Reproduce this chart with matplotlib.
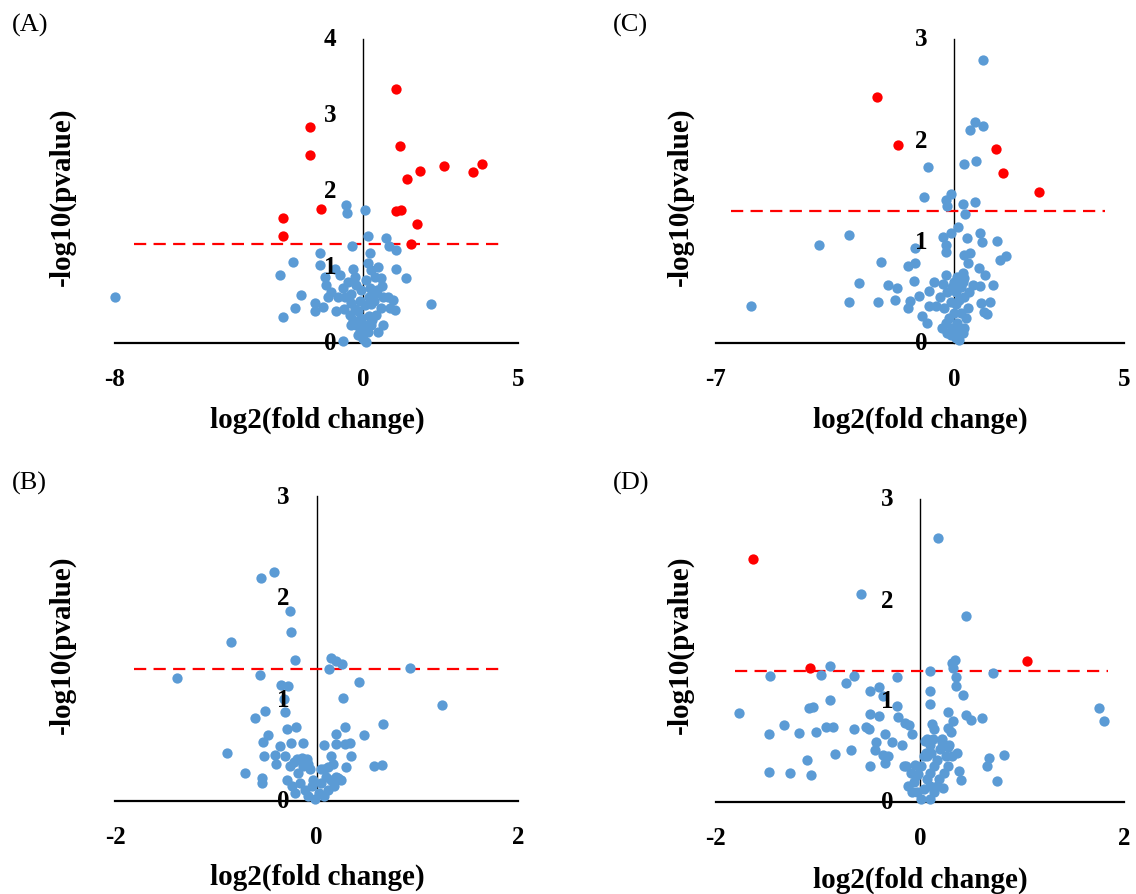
import matplotlib
matplotlib.use("Agg")
import matplotlib.pyplot as plt

plt.rcParams['font.family'] = ['Liberation Serif', 'DejaVu Serif']

BLUE = "#5B9BD5"
RED = "#FF0000"
THR = 1.3  # -log10(0.05)

# ---- panel A
a_red_x = [1.08, -1.70, -1.70, 1.20, 1.43, 1.84, 2.60, 3.55, 3.85, -1.36, 1.08, 1.23, 1.73, -2.57, -2.57, 1.54]
a_red_y = [3.34, 2.84, 2.47, 2.59, 2.16, 2.26, 2.33, 2.25, 2.35, 1.76, 1.74, 1.75, 1.57, 1.64, 1.41, 1.30]
a_blue_x = [-8.0, -0.54, -0.52, 0.05, 0.16, -0.34, 0.75, 0.83, 1.08, -1.40, -1.40, -2.26, -2.69,
            0.22, 0.16, 0.27, 0.48, 0.38, 0.59, 1.08, 1.40, -0.91, -0.75, -0.32, -0.27, -1.24,
            -1.18, -1.02, -0.65, -0.48, -0.22, -1.99, -2.20, -2.58, -1.56, -1.56, -1.29, -0.86,
            -1.13, -0.81, -0.59, -0.38, 0.22, 0.38, 0.65, 0.81, 0.97, 0.59, 0.86, 1.02, 0.27,
            0.43, 0.65, 0.48, -0.43, -0.32, -0.16, -0.05, 0.05, -0.22, -0.11, 0.0, 0.16, 0.11,
            0.27, -0.38, -0.16, -0.65, 2.20, 0.05, -0.10, 0.20, 0.30, -0.25, 0.10, -0.05, 0.35,
            -0.40, 0.45, -0.60, 0.60, 0.20, 0.10, -0.05]
a_blue_y = [0.60, 1.82, 1.71, 1.75, 1.41, 1.27, 1.38, 1.28, 1.23, 1.18, 1.03, 1.06, 0.90,
            1.19, 1.05, 0.96, 1.00, 0.87, 0.85, 0.97, 0.86, 0.98, 0.89, 0.97, 0.87, 0.87,
            0.76, 0.67, 0.73, 0.80, 0.76, 0.63, 0.46, 0.34, 0.53, 0.42, 0.48, 0.42,
            0.60, 0.60, 0.60, 0.64, 0.73, 0.64, 0.60, 0.60, 0.57, 0.46, 0.46, 0.44, 0.51,
            0.37, 0.24, 0.14, 0.37, 0.30, 0.42, 0.33, 0.24, 0.24, 0.14, 0.05, 0.14, 0.01,
            0.24, 0.24, 0.10, 0.03, 0.51, 0.50, 0.55, 0.35, 0.30, 0.45, 0.20, 0.10, 0.55,
            0.52, 0.70, 0.45, 0.75, 0.60, 0.83, 0.70]

# ---- panel C
c_red_x = [-2.26, -1.65, 1.23, 1.45, 2.51]
c_red_y = [2.43, 1.95, 1.91, 1.68, 1.49]
c_blue_x = [0.85, 0.63, 0.85, 0.48, 0.64, 0.29, -0.77, -0.89, -0.25, -0.10, -0.21, 0.27, 0.63, 0.32,
            -3.10, -3.97, -5.98, 0.12, -0.08, -0.33, 0.37, 0.76, 0.83, 1.26, -1.16, -0.25, -0.25,
            0.29, 0.47, 0.40, 1.36, 1.53, -2.15, -1.36, -1.14, 0.73, 0.90, -2.78, -1.95, -1.67,
            -1.19, -0.25, -0.33, -0.59, -0.74, 0.27, 0.29, 0.56, 0.76, 1.16, -3.08, -2.23, -1.73,
            -1.29, -1.04, -1.34, -0.94, -0.79, -0.74, -0.53, 0.78, 1.06, 0.88, 0.96,
            -0.40, -0.30, -0.20, -0.15, -0.10, -0.05, 0.0, 0.05, 0.10, 0.15, 0.20, 0.25, 0.30,
            0.35, 0.40, 0.05, -0.10, 0.15, 0.0, -0.25, 0.20, 0.10, -0.35, 0.30, 0.45, -0.05,
            0.25, 0.05, -0.20, 0.12]
c_blue_y = [2.79, 2.18, 2.14, 2.10, 1.80, 1.77, 1.74, 1.44, 1.41, 1.47, 1.35, 1.37, 1.39, 1.27,
            1.07, 0.97, 0.37, 1.14, 1.09, 1.05, 1.04, 1.09, 1.00, 1.01, 0.94, 0.97, 0.90,
            0.87, 0.89, 0.79, 0.82, 0.86, 0.80, 0.76, 0.79, 0.74, 0.67, 0.59, 0.57, 0.54,
            0.61, 0.67, 0.58, 0.60, 0.51, 0.69, 0.64, 0.57, 0.56, 0.57, 0.40, 0.40, 0.42,
            0.41, 0.46, 0.35, 0.27, 0.20, 0.37, 0.37, 0.39, 0.40, 0.31, 0.29,
            0.45, 0.35, 0.50, 0.25, 0.40, 0.15, 0.30, 0.50, 0.20, 0.42, 0.30, 0.10, 0.45,
            0.25, 0.35, 0.05, 0.08, 0.03, 0.60, 0.20, 0.55, 0.65, 0.15, 0.15, 0.50, 0.55,
            0.60, 0.38, 0.10, 0.12]

# ---- panel B
b_blue_x = [-0.42, -0.55, -0.26, -0.25, -0.85, -0.21, 0.14, 0.19, 0.25, 0.12, 0.93, -1.38, -0.56,
            0.42, -0.35, -0.28, 0.26, -0.32, -0.31, 1.25, -0.51, -0.61, 0.66, 0.28, -0.29, -0.20,
            -0.48, -0.53, 0.19, 0.47, -0.13, -0.25, -0.36, 0.07, 0.19, 0.28, 0.33, 0.34, -0.89,
            -0.52, -0.41, -0.40, -0.31, -0.22, -0.13, -0.08, 0.14, 0.16, 0.07, 0.29, 0.57, 0.65,
            -0.71, -0.54, -0.54,
            -0.29, -0.24, -0.21, -0.16, -0.11, -0.08, -0.04, -0.01, 0.02, 0.04, 0.07, 0.11, 0.14,
            0.17, 0.21, -0.18, -0.13, 0.04, 0.11, -0.19, -0.26, -0.14, -0.09, -0.06, -0.03, 0.19,
            0.24, 0.09]
b_blue_y = [2.25, 2.19, 1.87, 1.66, 1.56, 1.39, 1.41, 1.38, 1.35, 1.30, 1.31, 1.21, 1.24,
            1.17, 1.14, 1.13, 1.01, 1.00, 0.88, 0.94, 0.89, 0.82, 0.76, 0.73, 0.71, 0.73,
            0.65, 0.58, 0.66, 0.65, 0.57, 0.57, 0.54, 0.55, 0.56, 0.56, 0.57, 0.44, 0.47,
            0.44, 0.45, 0.36, 0.44, 0.38, 0.41, 0.36, 0.44, 0.36, 0.31, 0.33, 0.34, 0.35,
            0.28, 0.23, 0.18,
            0.21, 0.15, 0.08, 0.18, 0.11, 0.05, 0.15, 0.02, 0.08, 0.18, 0.05, 0.11, 0.21,
            0.15, 0.23, 0.28, 0.34, 0.31, 0.33, 0.41, 0.34, 0.42, 0.41, 0.31, 0.21, 0.24,
            0.21, 0.24]

# ---- panel D
d_red_x = [-1.64, -1.08, 1.05]
d_red_y = [2.41, 1.33, 1.40]
d_blue_x = [0.18, -0.58, 0.45, 0.34, 0.31, 0.32, -0.88, 0.10, 0.72, -1.47, -0.97, -0.65, -0.73,
            -0.23, 0.35, 0.35, -0.40, -0.49, 0.10, 0.42, -0.36, -0.88, 0.10, -0.23, -1.09, -1.05,
            -1.77, 1.75, 1.80, 0.27, -0.49, -0.40, 0.45, 0.50, 0.61, -0.22, -0.15, -0.11, -1.33,
            -0.92, -0.85, -0.65, -0.53, -0.50, 0.12, 0.14, 0.27, 0.32, 0.30, -1.48, -1.19, -1.02,
            -0.08, -0.34, -0.43, -0.27, -0.18, 0.05, 0.13, 0.22, 0.27, -0.83, -0.68, -0.44, -0.36,
            -0.31, 0.36, 0.31, 0.11, 0.07, 0.82, 0.68, 0.66, -1.11, -0.49, -0.34, -1.48, -1.27,
            -1.07, -0.16, -0.05, -0.02, 0.38, 0.40, 0.75, 0.23,
            -0.14, -0.09, -0.12, -0.06, -0.03, 0.01, 0.04, 0.07, 0.10, 0.14, 0.17, 0.06, 0.10,
            0.20, 0.25, 0.28, 0.01, -0.04, 0.10, 0.14, 0.19, 0.24, 0.27, 0.10, 0.17, -0.08,
            0.04, 0.22, 0.07]
d_blue_y = [2.61, 2.06, 1.84, 1.41, 1.38, 1.33, 1.35, 1.30, 1.28, 1.25, 1.26, 1.25, 1.18,
            1.24, 1.24, 1.15, 1.14, 1.10, 1.10, 1.06, 1.05, 1.01, 0.97, 0.95, 0.93, 0.94,
            0.88, 0.93, 0.80, 0.89, 0.87, 0.85, 0.86, 0.81, 0.83, 0.84, 0.78, 0.76, 0.76,
            0.74, 0.74, 0.72, 0.74, 0.72, 0.77, 0.72, 0.73, 0.80, 0.69, 0.67, 0.68, 0.69,
            0.67, 0.67, 0.59, 0.59, 0.56, 0.60, 0.62, 0.59, 0.54, 0.48, 0.51, 0.51, 0.47,
            0.46, 0.49, 0.46, 0.49, 0.46, 0.47, 0.44, 0.36, 0.42, 0.36, 0.39, 0.30, 0.29,
            0.27, 0.36, 0.37, 0.28, 0.31, 0.22, 0.21, 0.14,
            0.36, 0.29, 0.16, 0.20, 0.10, 0.03, 0.13, 0.23, 0.29, 0.36, 0.42, 0.49, 0.56,
            0.52, 0.46, 0.56, 0.36, 0.26, 0.16, 0.10, 0.23, 0.29, 0.36, 0.03, 0.16, 0.10,
            0.46, 0.62, 0.62]

W, H = 1136, 895
fig = plt.figure(figsize=(W / 100, H / 100), dpi=100)


def fx(x):
    return x / W


def fy(y):
    return 1 - y / H


def panel(box, xlim, xticks, ymax, bx, by, rx, ry, thr_span, tag, tag_xy, ylab_xy, xlab_xy):
    l, r, t, b = box  # pixel edges
    ax = fig.add_axes([fx(l), fy(b), (r - l) / W, (b - t) / H])
    ax.set_xlim(xlim)
    ax.set_ylim(0, ymax)
    ax.axis("off")
    ax.plot(xlim, [0, 0], color="black", lw=1.6, zorder=1, clip_on=False)
    ax.plot([0, 0], [0, ymax], color="black", lw=1.0, zorder=1, clip_on=False)
    ax.plot(thr_span, [THR, THR], color=RED, lw=1.6, dashes=(5.5, 3.3), zorder=2)
    ax.scatter(bx, by, s=55, color=BLUE, linewidths=0, zorder=3, clip_on=False)
    if rx:
        ax.scatter(rx, ry, s=55, color=RED, linewidths=0, zorder=4, clip_on=False)
    tk = dict(fontsize=18, fontweight="bold", ha="center", va="center",
              textcoords="offset pixels", zorder=6, annotation_clip=False)
    for v in range(ymax + 1):
        ax.annotate(str(v), xy=(0, v), xytext=(-33, 0), **tk)
    for v in xticks:
        ax.annotate(str(v), xy=(v, 0), xytext=(0, -36), **tk)
    fig.text(fx(tag_xy[0]), fy(tag_xy[1]), tag, fontsize=19, ha="left", va="center")
    fig.text(fx(ylab_xy[0]), fy(ylab_xy[1]), "-log10(pvalue)", rotation=90, fontsize=21,
             fontweight="bold", ha="center", va="center")
    fig.text(fx(xlab_xy[0]), fy(xlab_xy[1]), "log2(fold change)", fontsize=21,
             fontweight="bold", ha="center", va="center")
    return ax


panel((115, 518, 40, 344), (-8, 5), [-8, 0, 5], 4, a_blue_x, a_blue_y, a_red_x, a_red_y,
      (-7.4, 4.45), "(A)", (12, 25), (62, 197), (317, 420))
panel((716, 1124, 40, 344), (-7, 5), [-7, 0, 5], 3, c_blue_x, c_blue_y, c_red_x, c_red_y,
      (-6.55, 4.45), "(C)", (613, 25), (680, 197), (920, 420))
panel((115, 518, 497, 802), (-2, 2), [-2, 0, 2], 3, b_blue_x, b_blue_y, [], [],
      (-1.81, 1.87), "(B)", (12, 483), (62, 645), (317, 877))
panel((716, 1124, 500, 803), (-2, 2), [-2, 0, 2], 3, d_blue_x, d_blue_y, d_red_x, d_red_y,
      (-1.81, 1.84), "(D)", (613, 483), (680, 645), (920, 880))

fig.savefig("out.png", dpi=100)
